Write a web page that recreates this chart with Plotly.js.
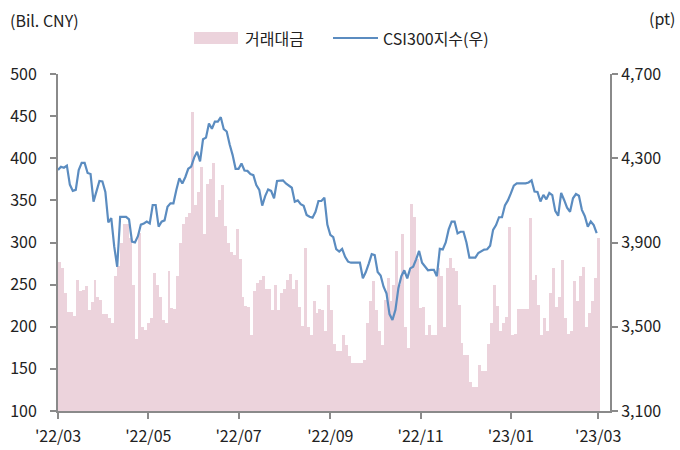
<!DOCTYPE html>
<html><head><meta charset="utf-8">
<script src="https://cdn.plot.ly/plotly-3.0.1.min.js"></script>
<style>html,body{margin:0;padding:0;background:#fff}#chart{width:680px;height:450px}</style>
</head><body><div id="chart"></div>
<script>
// Sampled every 2 calendar days starting 2022-03-01
const startDate = '2022-03-01';
const stepDays = 2;

// 거래대금 (Bil. CNY)
const tradingValue = [
277,270,240,217,217,213,255,242,244,248,
220,229,255,235,232,215,215,210,205,260,
272,300,322,322,305,250,185,311,200,196,
205,210,264,250,235,208,204,266,222,221,
260,300,322,330,335,455,344,360,390,310,
370,375,394,330,350,368,320,299,289,285,
316,280,235,225,223,190,242,252,255,260,
245,245,220,250,220,240,245,255,263,245,
255,223,201,293,200,190,230,216,221,220,
195,250,220,180,171,171,190,178,165,157,
157,157,157,160,205,230,254,220,195,178,
232,258,230,250,290,250,310,200,175,346,
330,280,222,223,190,202,190,190,270,260,
200,270,282,270,266,226,181,166,166,135,
129,129,155,148,148,180,205,250,225,195,
205,211,318,190,191,221,221,221,221,329,
255,261,226,190,210,195,240,270,223,235,
279,210,191,195,254,230,260,271,200,216,
230,258,305
];

// CSI300지수 (pt, right axis)
const csi300 = [
4244,4260,4255,4265,4175,4145,4150,4244,4278,4278,
4230,4225,4094,4150,4192,4190,4140,3995,4016,3880,
3785,4022,4022,4022,4010,3904,3900,3930,3985,3990,
3999,3990,4078,4078,3975,3999,4005,4070,4086,4086,
4150,4205,4180,4210,4250,4260,4303,4331,4285,4390,
4398,4465,4440,4474,4474,4495,4438,4427,4365,4315,
4250,4250,4275,4242,4240,4225,4220,4173,4150,4075,
4120,4152,4145,4110,4192,4192,4195,4180,4170,4160,
4094,4100,4082,4074,4031,4022,4018,4046,4097,4097,
4113,3985,3936,3925,3868,3857,3870,3832,3809,3804,
3804,3804,3804,3730,3760,3800,3845,3840,3760,3743,
3690,3658,3560,3532,3580,3683,3740,3768,3730,3777,
3785,3820,3860,3804,3785,3768,3770,3770,3740,3870,
3867,3900,3962,3999,3999,3943,3951,3951,3900,3828,
3828,3828,3850,3860,3866,3868,3885,3960,3983,4020,
4020,4076,4100,4133,4170,4181,4181,4181,4181,4185,
4195,4142,4140,4095,4126,4105,4135,4125,4050,4027,
4135,4102,4065,4046,4110,4130,4122,4055,4025,3975,
4000,3983,3945
];

const xTickVals = ['2022-03-01','2022-05-01','2022-07-01','2022-09-01','2022-11-01','2023-01-01','2023-03-01'];
const xTickText = ["'22/03","'22/05","'22/07","'22/09","'22/11","'23/01","'23/03"];
const leftTicks = [100,150,200,250,300,350,400,450,500];
const rightTicks = [3100,3500,3900,4300,4700];

const legendBar = '거래대금';
const legendLine = 'CSI300지수(우)';
const leftUnit = '(Bil. CNY)';
const rightUnit = '(pt)';

function addDays(s, n) {
  const d = new Date(s + 'T00:00:00Z');
  d.setUTCDate(d.getUTCDate() + n);
  return d.toISOString().slice(0, 10);
}
const dates = tradingValue.map((_, i) => addDays(startDate, i * stepDays));

const DAY = 86400000;
const FONT = '"Noto Sans CJK KR", "Noto Sans", sans-serif';
const TXT = '#222222';
const AX = '#8a8a8a';
const PINK = '#ecd3dc';
const BLUE = '#5b8cc0';

const traces = [
  {
    type: 'bar', x: dates, y: tradingValue, name: legendBar,
    width: stepDays * DAY, offset: 0,
    marker: {color: PINK, line: {width: 0}},
    yaxis: 'y', showlegend: false, hoverinfo: 'skip'
  },
  {
    type: 'scatter', mode: 'lines', x: dates, y: csi300, name: legendLine,
    line: {color: BLUE, width: 2.2},
    yaxis: 'y2', showlegend: false, hoverinfo: 'skip'
  }
];

// paper coords helpers (plot area: x 58..610, y 74..411)
const L = 58, R = 610, T = 74, B = 411;
const px = v => (v - L) / (R - L);
const py = v => (B - v) / (B - T);

const layout = {
  width: 680, height: 450,
  margin: {l: L, r: 680 - R, t: T, b: 450 - B},
  paper_bgcolor: '#fff', plot_bgcolor: '#fff',
  font: {family: FONT, size: 16, color: TXT},
  bargap: 0,
  showlegend: false,
  xaxis: {
    type: 'date',
    range: ['2022-03-01', '2023-03-09'],
    tickvals: xTickVals, ticktext: xTickText,
    ticks: 'outside', ticklen: 6, tickwidth: 2, tickcolor: AX,
    showline: true, linecolor: AX, linewidth: 2,
    showgrid: false, zeroline: false,
    ticklabelstandoff: 4,
    tickfont: {family: FONT, size: 16, color: TXT}
  },
  yaxis: {
    range: [100, 500], tickvals: leftTicks,
    ticks: 'outside', ticklen: 6, tickwidth: 2, tickcolor: AX,
    showline: true, linecolor: AX, linewidth: 2,
    showgrid: false, zeroline: false,
    ticklabelstandoff: 10,
    tickfont: {family: FONT, size: 16, color: TXT}
  },
  yaxis2: {
    range: [3100, 4700], tickvals: rightTicks, tickformat: ',',
    overlaying: 'y', side: 'right',
    ticks: 'outside', ticklen: 6, tickwidth: 2, tickcolor: AX,
    showline: true, linecolor: AX, linewidth: 2,
    showgrid: false, zeroline: false,
    tickfont: {family: FONT, size: 16, color: TXT}
  },
  shapes: [
    {type: 'rect', xref: 'paper', yref: 'paper', x0: px(194), x1: px(238), y0: py(44), y1: py(32),
     fillcolor: PINK, line: {width: 0}},
    {type: 'line', xref: 'paper', yref: 'paper', x0: px(333), x1: px(378), y0: py(38), y1: py(38),
     line: {color: BLUE, width: 2}}
  ],
  annotations: [
    {text: legendBar, xref: 'paper', yref: 'paper', x: px(243), y: py(38), xanchor: 'left', yanchor: 'middle',
     showarrow: false, font: {family: FONT, size: 16, color: TXT}},
    {text: legendLine, xref: 'paper', yref: 'paper', x: px(381), y: py(38), xanchor: 'left', yanchor: 'middle',
     showarrow: false, font: {family: FONT, size: 16, color: TXT}},
    {text: leftUnit, xref: 'paper', yref: 'paper', x: px(8), y: py(20), xanchor: 'left', yanchor: 'middle',
     showarrow: false, font: {family: FONT, size: 16, color: TXT}},
    {text: rightUnit, xref: 'paper', yref: 'paper', x: px(677), y: py(18), xanchor: 'right', yanchor: 'middle',
     showarrow: false, font: {family: FONT, size: 16, color: TXT}}
  ]
};

Plotly.newPlot('chart', traces, layout, {staticPlot: true, displayModeBar: false});
</script>
</body></html>
